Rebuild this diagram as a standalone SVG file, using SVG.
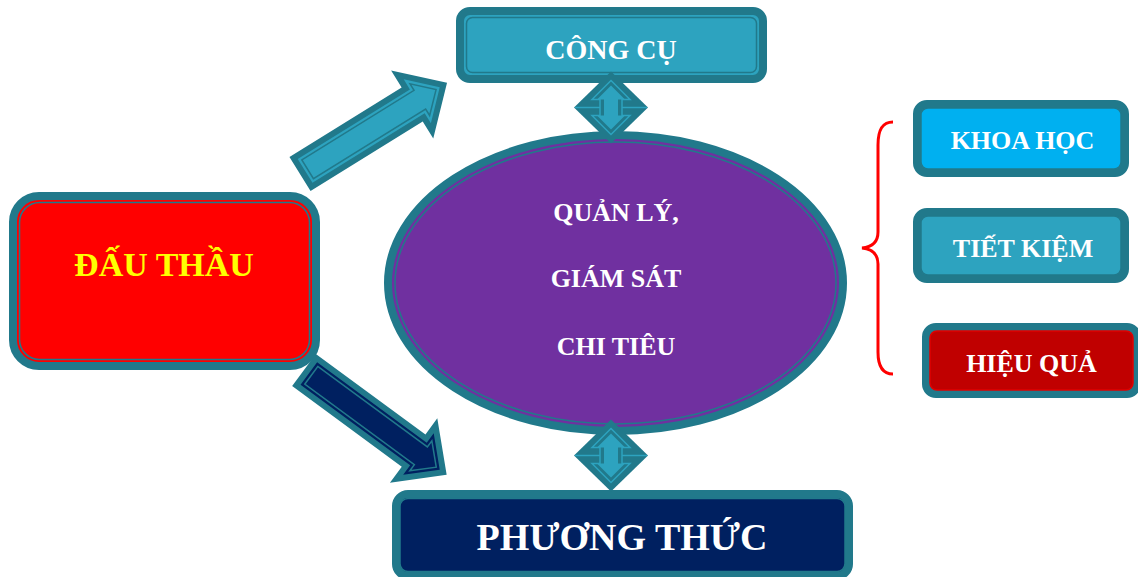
<svg xmlns="http://www.w3.org/2000/svg" width="1138" height="577" viewBox="0 0 1138 577">
<style>
.t{font-family:"Liberation Serif","Times New Roman",serif;font-weight:bold;text-anchor:middle;fill:#FFFFFF}
.frame{stroke:#21798B;stroke-width:8}
.line{fill:none;stroke:#21798B;stroke-width:1.5}
.teal{fill:#21798B}
.light{fill:#2DA3BF}
.navy{fill:#002060}
.lightline{fill:none;stroke:#2DA3BF;stroke-width:1.5}
.brace{fill:none;stroke:#FF0000;stroke-width:3}
</style>
<defs>
<g id="dbl">
<polygon class="teal" points="0,-36 37,0 0,36 -37,0"/>
<polygon class="lightline" stroke-width="2" points="0,-27 19,-8 11,-8 11,8 19,8 0,27 -19,8 -11,8 -11,-8 -19,-8"/>
<polygon class="light" points="0,-22 14,-8 7,-8 7,8 14,8 0,22 -14,8 -7,8 -7,-8 -14,-8"/>
<line class="lightline" x1="-36" y1="0" x2="-11" y2="0"/>
<line class="lightline" x1="11" y1="0" x2="36" y2="0"/>
</g>
</defs>
<rect width="1138" height="577" fill="#FFFFFF"/>

<g id="node-dauthau">
<rect class="frame" x="13" y="196" width="303" height="170" rx="26" fill="#FF0000"/>
<rect class="line" x="19.5" y="202.5" width="290" height="157" rx="20"/>
<text class="t" x="164" y="276" font-size="34" style="fill:#FFFF00">ĐẤU THẦU</text>
</g>

<g id="node-congcu">
<rect class="frame light" x="460" y="11" width="303" height="68" rx="10"/>
<rect class="line" x="466.5" y="17.5" width="290" height="55" rx="6"/>
<text class="t" x="611" y="59" font-size="28">CÔNG CỤ</text>
</g>

<g id="node-quanly">
<ellipse class="frame" cx="615.5" cy="283" rx="227.5" ry="148" fill="#7030A0"/>
<ellipse class="line" cx="615.5" cy="283" rx="220.5" ry="141"/>
<text class="t" x="616" y="221" font-size="26">QUẢN LÝ,</text>
<text class="t" x="616" y="287" font-size="26">GIÁM SÁT</text>
<text class="t" x="616" y="355" font-size="26">CHI TIÊU</text>
</g>

<g id="node-phuongthuc">
<rect class="frame navy" x="396" y="494" width="453" height="82" rx="12"/>
<rect class="line" x="400" y="498.5" width="445" height="73" rx="8"/>
<text class="t" x="622" y="550" font-size="38">PHƯƠNG THỨC</text>
</g>

<g id="node-khoahoc">
<rect class="frame" x="917" y="104" width="208" height="69" rx="10" fill="#00B0F0"/>
<rect class="line" x="921" y="108" width="200" height="61" rx="7"/>
<text class="t" x="1022.5" y="149" font-size="26">KHOA HỌC</text>
</g>

<g id="node-tietkiem">
<rect class="frame light" x="917" y="212" width="208" height="67" rx="10"/>
<rect class="line" x="921" y="216" width="200" height="59" rx="7"/>
<text class="t" x="1023" y="257" font-size="26">TIẾT KIỆM</text>
</g>

<g id="node-hieuqua">
<rect class="frame" x="926" y="327" width="211" height="67" rx="10" fill="#C00000"/>
<rect x="930" y="331" width="203" height="59" rx="7" fill="none" stroke="#E00000" stroke-width="1.5"/>
<text class="t" x="1031.5" y="372" font-size="26">HIỆU QUẢ</text>
</g>

<g id="connectors">
<g transform="translate(300,174) rotate(-31.8)">
<polygon class="teal" points="0,-20 132,-20 132,-40 173,0 132,40 132,20 0,20"/>
<polygon class="light" points="6,-14 138,-14 138,-25.8 164.4,0 138,25.8 138,14 6,14"/>
<polygon class="line" points="9,-11 141,-11 141,-18.6 160.1,0 141,18.6 141,11 9,11"/>
</g>
<g transform="translate(304,370) rotate(36.3)">
<polygon class="teal" points="0,-20 136,-20 136,-40 177,0 136,40 136,20 0,20"/>
<polygon class="navy" points="6,-14 142,-14 142,-25.8 168.4,0 142,25.8 142,14 6,14"/>
<polygon class="line" points="9,-11 145,-11 145,-18.6 164.1,0 145,18.6 145,11 9,11"/>
</g>
<use href="#dbl" transform="translate(611,107.5)"/>
<use href="#dbl" transform="translate(611,455.5)"/>
<path class="brace" d="M893,122 C882,122 878,130 878,145 L878,232 C878,242 872,247 862,248 C872,249 878,254 878,264 L878,352 C878,366 882,374 893,374"/>
</g>
</svg>
